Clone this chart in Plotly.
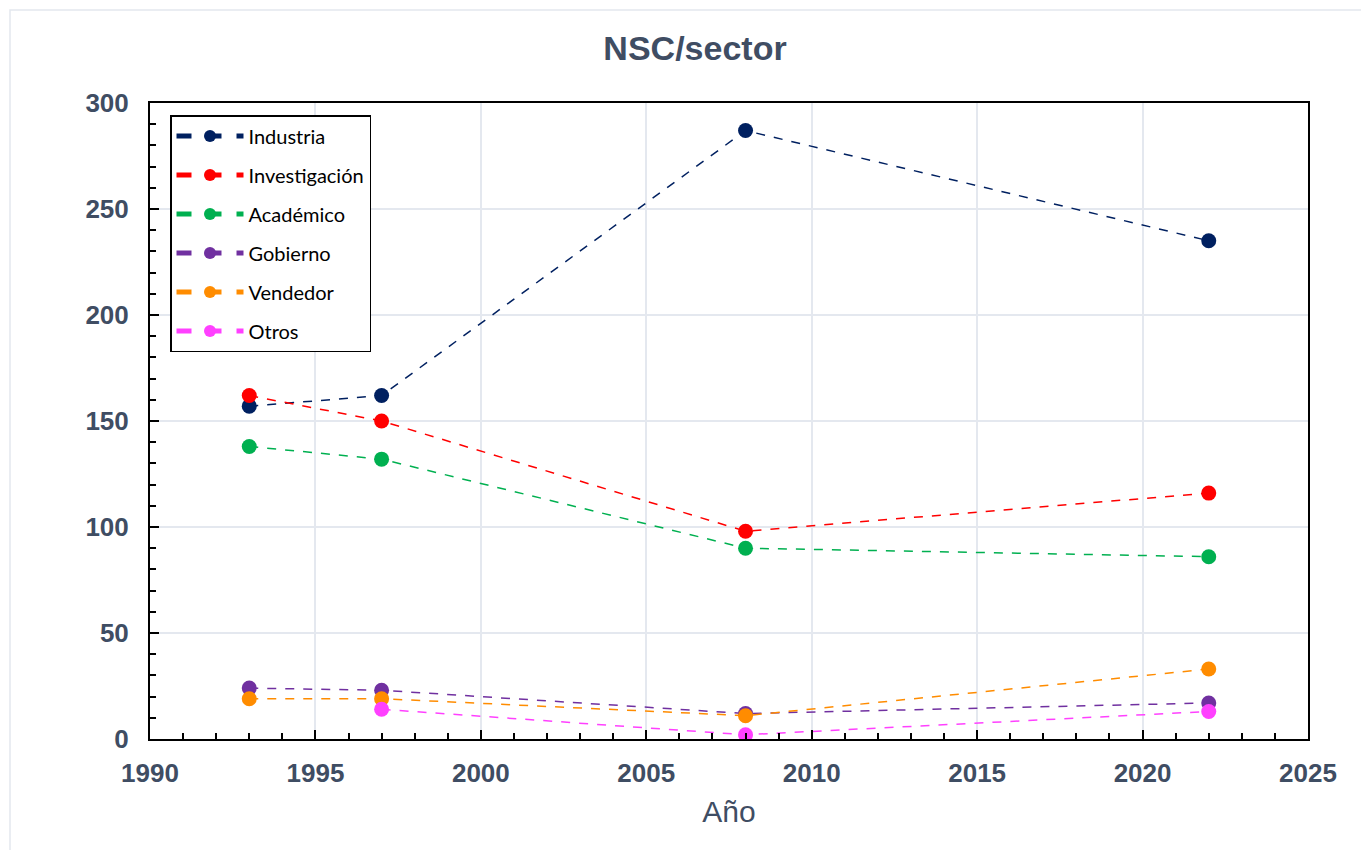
import plotly.graph_objects as go

years = [1993, 1997, 2008, 2022]
series_names = ["Industria", "Investigación", "Académico", "Gobierno", "Vendedor", "Otros"]
industria = [157, 162, 287, 235]
investigacion = [162, 150, 98, 116]
academico = [138, 132, 90, 86]
gobierno = [24, 23, 12, 17]
vendedor = [19, 19, 11, 33]
otros = [None, 14, 2, 13]
colors = ["#002060", "#FF0000", "#00B050", "#7030A0", "#FF8C00", "#FF40FF"]

values = [industria, investigacion, academico, gobierno, vendedor, otros]

fig = go.Figure()
for name, vals, col in zip(series_names, values, colors):
    xs = [x for x, v in zip(years, vals) if v is not None]
    ys = [v for v in vals if v is not None]
    fig.add_trace(go.Scatter(
        x=xs, y=ys, name=name, mode="lines+markers", legendgroup=name,
        line=dict(color=col, width=1.5, dash="dash"),
        marker=dict(color=col, size=15),
    ))

slate = "#3f4d63"
font_main = "Liberation Sans, Arial"
OFF = 8  # page body offset
W, H = 1369 - OFF, 850 - OFF
l, r, t, b = 150 - OFF, 61, 103 - OFF, 111
pw, ph = W - l - r, H - t - b

fig.update_layout(
    width=W, height=H,
    margin=dict(l=l, r=r, t=t, b=b),
    paper_bgcolor="white", plot_bgcolor="white",
    title=dict(text="<b>NSC/sector</b>", x=(695 - OFF) / W, xref="container", xanchor="center",
               y=1 - (48 - OFF) / H, yref="container", yanchor="middle",
               font=dict(family=font_main, size=34, color=slate)),
    showlegend=True,
    legend=dict(x=(170 - 150) / pw, y=1 - (115 - 103) / ph, xanchor="left", yanchor="top",
                bgcolor="white", bordercolor="black", borderwidth=1.5,
                font=dict(family="Lato, Carlito, sans-serif", size=20, color="black"),
                tracegroupgap=10, itemwidth=67, itemsizing="constant"),
    xaxis=dict(range=[1990, 2025], dtick=5, tick0=1990,
               showgrid=True, gridcolor="#e4e8ef", gridwidth=1.5,
               showline=True, linecolor="black", linewidth=2, mirror=True,
               ticks="inside", ticklen=9, tickwidth=2, tickcolor="black",
               minor=dict(dtick=1, ticks="inside", ticklen=6, tickwidth=1.5, tickcolor="black", showgrid=False),
               tickfont=dict(family=font_main, size=26, color=slate),
               tickprefix="<b>", ticksuffix="</b>",
               ticklabelstandoff=10,
               zeroline=False,
               title=dict(text="Año", font=dict(family=font_main, size=30, color=slate), standoff=14)),
    yaxis=dict(range=[0, 300], dtick=50,
               showgrid=True, gridcolor="#e4e8ef", gridwidth=1.5,
               showline=True, linecolor="black", linewidth=2, mirror=True,
               ticks="inside", ticklen=9, tickwidth=2, tickcolor="black",
               minor=dict(dtick=10, ticks="inside", ticklen=6, tickwidth=1.5, tickcolor="black", showgrid=False),
               tickfont=dict(family=font_main, size=26, color=slate),
               tickprefix="<b>", ticksuffix="</b>",
               ticklabelstandoff=14,
               zeroline=False),
    shapes=[dict(type="rect", xref="paper", yref="paper",
                 x0=(10 - 150) / pw, x1=(1390 - 150) / pw,
                 y0=1 - (860 - 103) / ph, y1=1 + (103 - 10) / ph,
                 line=dict(color="#e3e8ee", width=1.5), fillcolor="rgba(0,0,0,0)", layer="below")],
)

fig.write_html("out.html")
